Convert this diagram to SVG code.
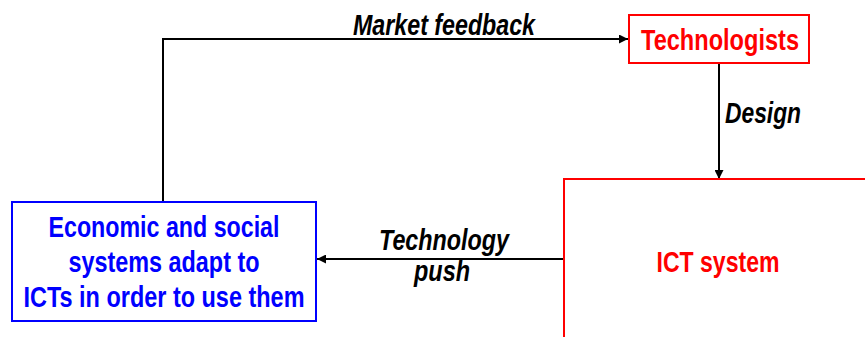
<svg xmlns="http://www.w3.org/2000/svg" width="865" height="337" viewBox="0 0 865 337">
<style>
.t{font-family:"Liberation Sans",Arial,sans-serif;font-weight:bold;font-size:29px;text-anchor:middle}
.lbl{font-style:italic;fill:#000}
.red{fill:#ff0000}
.blue{fill:#0000ff}
.c{stroke:#000;stroke-width:2;fill:none}
</style>
<defs>
<marker id="ah" viewBox="0 0 10 10" refX="10" refY="5" markerWidth="10" markerHeight="9" markerUnits="userSpaceOnUse" orient="auto">
<path d="M0,0 L10,5 L0,10 z" fill="#000"/>
</marker>
</defs>
<g id="connectors">
<polyline class="c" points="163,202 163,39 628,39" marker-end="url(#ah)"/>
<line class="c" x1="719" y1="63" x2="719" y2="179" marker-end="url(#ah)"/>
<line class="c" x1="564" y1="259" x2="317" y2="259" marker-end="url(#ah)"/>
<text class="t lbl" x="444" y="35" textLength="182" lengthAdjust="spacingAndGlyphs">Market feedback</text>
<text class="t lbl" x="763" y="123" textLength="76" lengthAdjust="spacingAndGlyphs">Design</text>
<text class="t lbl" x="444" y="250" textLength="130" lengthAdjust="spacingAndGlyphs">Technology</text>
<text class="t lbl" x="442" y="281" textLength="56" lengthAdjust="spacingAndGlyphs">push</text>
</g>
<g id="technologists">
<rect x="629" y="15" width="180" height="48" fill="#fff" stroke="#ff0000" stroke-width="2"/>
<text class="t red" x="720" y="50" textLength="158" lengthAdjust="spacingAndGlyphs">Technologists</text>
</g>
<g id="ict">
<rect x="564" y="179" width="320" height="180" fill="#fff" stroke="#ff0000" stroke-width="2"/>
<text class="t red" x="718" y="272" textLength="123" lengthAdjust="spacingAndGlyphs">ICT system</text>
</g>
<g id="economic">
<rect x="12" y="202" width="304" height="119" fill="#fff" stroke="#0000ff" stroke-width="2"/>
<text class="t blue" x="164" y="237" textLength="231" lengthAdjust="spacingAndGlyphs">Economic and social</text>
<text class="t blue" x="164" y="272" textLength="191" lengthAdjust="spacingAndGlyphs">systems adapt to</text>
<text class="t blue" x="164" y="307" textLength="281" lengthAdjust="spacingAndGlyphs">ICTs in order to use them</text>
</g>
</svg>
